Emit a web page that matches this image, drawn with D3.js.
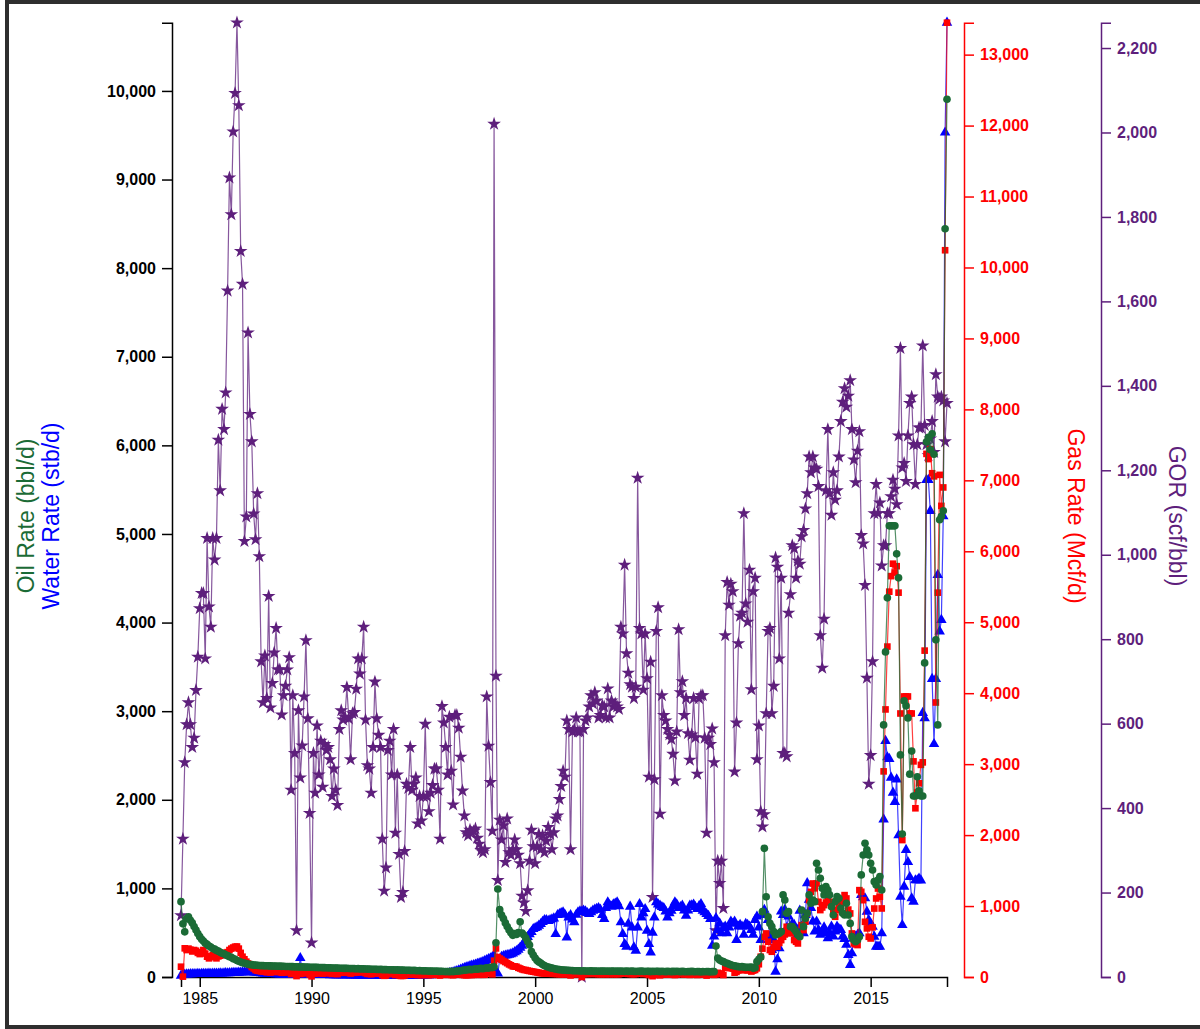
<!DOCTYPE html>
<html>
<head>
<meta charset="utf-8">
<script src="https://cdn.jsdelivr.net/npm/d3@7"></script>
<style>
  body { margin: 0; background: #fff; overflow: hidden; }
  #frame { position: absolute; left: 5px; top: 0; width: 1300px; height: 1021px; border: 4px solid #2e2e2e; }
  #chart { position: absolute; left: 0; top: 0; }
  text { font-family: "Liberation Sans", Arial, sans-serif; }
</style>
</head>
<body>
<div id="frame"></div>
<svg id="chart" width="1200" height="1029"></svg>
<script>
// monthly production, first month = March 1984
const firstMonth = new Date(1984, 2, 1)

const oil = [
  850, 600, 510, 660, 680, 640, 610, 570, 530, 490,
  455, 425, 405, 382, 368, 350, 338, 322, 314, 300, 292, 278,
  268, 262, 248, 241, 228, 222, 207, 200, 186, 178, 168, 161,
  156, 149, 146, 140, 139, 134, 134, 131, 130, 128, 129, 126,
  127, 125, 125, 123, 124, 122, 121, 122, 120, 121, 119, 119,
  118, 117, 117, 115, 116, 114, 113, 114, 112, 111, 112, 110,
  110, 109, 108, 108, 106, 107, 105, 105, 104, 103, 103, 102,
  101, 102, 100, 99, 99, 98, 97, 98, 96, 95, 96, 94,
  93, 94, 92, 91, 92, 90, 89, 90, 88, 87, 88, 86,
  85, 86, 84, 83, 84, 82, 81, 82, 80, 79, 80, 78,
  77, 78, 76, 75, 76, 74, 73, 74, 72, 71, 72, 70,
  69, 70, 68, 67, 68, 66, 65, 66, 64, 63, 64, 62,
  61, 62, 60, 63, 61, 64, 66, 68, 71, 74, 77, 79,
  83, 86, 82, 88, 91, 87, 94, 97, 93, 99, 104, 101,
  108, 106, 115, 387, 993, 760, 700, 660, 610, 570, 530, 500,
  470, 490, 480, 500, 624, 497, 474, 440, 400, 361, 286, 248,
  214, 185, 170, 158, 140, 130, 118, 113, 105, 100, 95, 90,
  86, 83, 81, 78, 77, 75, 74, 73, 72, 71, 70, 70,
  69, 68, 70, 67, 68, 66, 69, 67, 66, 68, 65, 67,
  66, 68, 65, 67, 64, 66, 68, 65, 67, 64, 66, 65,
  64, 66, 63, 65, 67, 64, 62, 65, 63, 66, 64, 62,
  65, 63, 61, 64, 62, 65, 63, 61, 64, 62, 60, 63,
  62, 60, 63, 61, 64, 62, 60, 63, 61, 59, 62, 60,
  63, 61, 59, 62, 60, 58, 61, 59, 62, 60, 58, 61,
  60, 350, 214, 192, 180, 173, 160, 155, 145, 136, 130, 125,
  120, 117, 115, 117, 112, 109, 110, 109, 113, 98, 105, 173,
  199, 226, 737, 1452, 906, 680, 605, 568, 512, 474, 485, 493,
  512, 926, 869, 719, 737, 568, 568, 540, 512, 474, 455, 756,
  568, 662, 719, 926, 832, 869, 850, 1283, 1208, 1114, 1001, 926,
  1020, 982, 926, 794, 700, 850, 907, 888, 775, 719, 700, 832,
  700, 605, 455, 417, 399, 417, 455, 1152, 1377, 1509, 1434, 1377,
  1283, 1208, 1076, 1039, 1095, 1133, 982, 2845, 3669, 4279, 5092, 5092,
  5092, 5092, 4776, 4505, 2506, 1614, 3116, 3060, 2924, 2289, 2550, 2043,
  2043, 2260, 2100, 2043, 2043, 3545, 6040, 6090, 5950, 6130, 5900, 3805,
  2845, 5160, 5200, 5261, 8445, 9906
]

const water = [
  15, 25, 28, 30, 31, 32, 32, 34, 33, 35,
  34, 36, 35, 37, 36, 38, 37, 39, 38, 40, 39, 41,
  40, 42, 43, 42, 44, 45, 46, 47, 48, 49, 51, 52,
  54, 56, 57, 55, 54, 52, 51, 48, 46, 43, 40, 38,
  36, 35, 34, 33, 33, 32, 31, 30, 30, 29, 29, 28,
  28, 27, 27, 29, 30, 60, 214, 70, 28, 27, 26, 26,
  25, 25, 24, 24, 23, 24, 23, 22, 23, 22, 21, 22,
  21, 21, 20, 21, 20, 19, 20, 19, 19, 18, 19, 18,
  18, 17, 18, 17, 17, 16, 17, 16, 16, 16, 15, 16,
  15, 16, 15, 15, 14, 15, 15, 14, 15, 14, 14, 15,
  14, 15, 14, 15, 15, 16, 15, 16, 17, 16, 17, 18,
  18, 19, 19, 20, 21, 22, 24, 25, 27, 28, 31, 33,
  36, 39, 44, 48, 53, 60, 66, 74, 83, 92, 101, 110,
  116, 123, 128, 135, 141, 149, 155, 163, 171, 182, 191, 203,
  212, 226, 241, 60, 40, 200, 229, 236, 242, 246, 251, 258,
  266, 281, 292, 309, 331, 352, 389, 421, 452, 484, 509, 541,
  553, 562, 579, 598, 622, 643, 641, 633, 642, 651, 662, 485,
  700, 711, 722, 730, 702, 447, 673, 698, 650, 617, 703, 730,
  741, 738, 749, 740, 722, 711, 730, 749, 760, 770, 779, 760,
  700, 654, 780, 843, 810, 794, 820, 830, 843, 800, 617, 485,
  372, 342, 600, 794, 560, 335, 297, 560, 824, 673, 720, 767,
  523, 372, 278, 500, 673, 843, 820, 805, 790, 779, 740, 673,
  720, 749, 800, 843, 820, 779, 790, 805, 750, 692, 750, 805,
  810, 817, 790, 767, 800, 824, 749, 730, 711, 690, 654, 353,
  457, 664, 532, 607, 494, 551, 570, 494, 560, 626, 600, 626,
  419, 570, 588, 570, 476, 600, 588, 570, 532, 476, 645, 683,
  560, 419, 701, 758, 700, 645, 457, 306, 419, 60, 200, 325,
  739, 700, 758, 551, 683, 551, 600, 588, 457, 532, 749, 570,
  494, 700, 1059, 871, 780, 626, 513, 626, 532, 476, 520, 560,
  494, 438, 500, 570, 457, 513, 570, 540, 532, 457, 430, 363,
  250, 137, 268, 438, 455, 476, 493, 926, 900, 888, 738, 643,
  600, 568, 455, 342, 342, 342, 493, 1779, 2665, 2480, 2461, 2250,
  2080, 1976, 2230, 1600, 907, 587, 1020, 1434, 1298, 1129, 888, 850,
  1092, 1092, 1111, 1090, 2980, 2920, 5610, 5610, 5260, 3364, 2630, 3364,
  4538, 3900, 4030, 5200, 9530, 10770
]

const gas = [
  145, 5, 404, 380, 400, 385, 360, 380, 370, 340,
  323, 350, 380, 330, 286, 263, 290, 310, 280, 263, 290, 300,
  310, 330, 342, 350, 380, 400, 415, 427, 430, 400, 340, 286,
  250, 216, 190, 169, 140, 120, 98, 90, 85, 80, 78, 75,
  66, 90, 63, 70, 75, 80, 70, 70, 60, 65, 66, 70,
  72, 42, 62, 49, 13, 58, 43, 50, 60, 72, 55, 35,
  9, 58, 47, 64, 52, 60, 48, 58, 56, 57, 54, 44,
  50, 45, 41, 59, 63, 60, 60, 67, 59, 49, 60, 59,
  64, 71, 67, 69, 76, 55, 45, 44, 39, 48, 62, 54,
  49, 47, 28, 17, 22, 46, 47, 40, 48, 28, 39, 23,
  15, 16, 23, 35, 34, 41, 33, 34, 35, 27, 31, 27,
  30, 41, 29, 27, 30, 31, 33, 33, 29, 21, 42, 38,
  34, 30, 38, 30, 25, 39, 39, 38, 35, 30, 27, 25,
  28, 30, 29, 31, 32, 32, 32, 32, 31, 33, 70, 57,
  50, 38, 230, 403, 281, 260, 243, 225, 211, 195, 178, 165,
  150, 148, 145, 130, 120, 108, 100, 98, 90, 85, 80, 75,
  70, 65, 60, 55, 52, 50, 50, 48, 47, 45, 45, 44,
  42, 40, 40, 40, 38, 44, 40, 22, 40, 40, 42, 40,
  40, 0, 40, 42, 43, 45, 45, 44, 45, 44, 40, 41,
  42, 42, 40, 44, 40, 43, 41, 42, 41, 40, 52, 50,
  60, 47, 44, 43, 42, 40, 42, 75, 51, 50, 42, 50,
  43, 29, 45, 12, 29, 50, 54, 24, 41, 38, 37, 36,
  35, 34, 32, 28, 35, 50, 40, 42, 37, 40, 35, 30,
  34, 40, 34, 29, 39, 40, 40, 34, 20, 35, 33, 35,
  30, 39, 59, 43, 50, 28, 130, 145, 128, 126, 118, 61,
  72, 92, 98, 101, 123, 96, 92, 105, 77, 90, 99, 122,
  180, 286, 400, 567, 614, 497, 380, 356, 420, 473, 427, 480,
  520, 567, 600, 708, 650, 614, 661, 520, 497, 473, 600, 731,
  661, 780, 896, 1084, 1200, 1318, 1250, 1318, 1060, 943, 980, 1013,
  1050, 1083, 1060, 1036, 943, 849, 943, 980, 1013, 1080, 1154, 1107,
  950, 896, 614, 473, 460, 450, 1224, 1201, 1083, 778, 685, 567,
  543, 700, 965, 1107, 1247, 1130, 966, 2898, 3771, 4657, 5431, 5650,
  5825, 5700, 5790, 5417, 3714, 1930, 3954, 3954, 3954, 3714, 3714, 3039,
  2378, 2600, 2730, 2990, 3025, 4600, 7373, 7300, 7440, 7100, 7056, 3869,
  5417, 7077, 6640, 6900, 10243, 13450
]

const gor = [
  146, 327, 508, 598, 650, 598, 544, 566, 679, 758,
  873, 909, 909, 754, 1039, 877, 829, 1039, 988, 1039, 1272, 1152,
  1345, 1297, 1384, 1625, 1893, 1806, 2002, 2093, 2260, 2064, 1719, 1641,
  1032, 1090, 1526, 1333, 1268, 1097, 1036, 1145, 996, 747, 650, 761,
  660, 902, 638, 696, 768, 826, 728, 728, 621, 667, 689, 728,
  757, 443, 667, 530, 110, 631, 472, 548, 664, 797, 612, 388,
  81, 530, 436, 595, 479, 559, 450, 551, 537, 544, 515, 428,
  493, 443, 407, 587, 631, 609, 616, 686, 612, 515, 624, 627,
  682, 754, 718, 754, 829, 609, 501, 493, 436, 544, 699, 612,
  573, 544, 327, 204, 259, 537, 559, 479, 587, 341, 479, 291,
  189, 201, 298, 457, 447, 544, 443, 457, 472, 363, 428, 370,
  428, 599, 428, 392, 436, 454, 493, 493, 443, 327, 641, 602,
  544, 479, 616, 488, 408, 620, 620, 590, 521, 441, 382, 342,
  335, 348, 342, 345, 351, 329, 315, 300, 295, 302, 664, 547,
  461, 346, 2020, 713, 229, 372, 325, 359, 272, 375, 295, 289,
  302, 325, 302, 289, 269, 192, 176, 156, 205, 275, 348, 309,
  269, 309, 338, 302, 335, 295, 322, 355, 338, 302, 342, 375,
  382, 421, 452, 488, 474, 607, 587, 302, 581, 587, 614, 581,
  581, 0, 587, 607, 614, 640, 667, 647, 674, 654, 614, 620,
  643, 640, 614, 683, 614, 654, 640, 647, 640, 634, 829, 813,
  976, 766, 720, 693, 687, 660, 687, 1182, 826, 813, 680, 813,
  707, 474, 746, 189, 468, 819, 875, 386, 667, 620, 607, 587,
  574, 563, 528, 465, 581, 823, 674, 700, 620, 660, 577, 514,
  574, 660, 567, 481, 660, 667, 667, 566, 341, 566, 551, 588,
  508, 110, 275, 222, 275, 163, 809, 935, 881, 931, 913, 486,
  602, 790, 855, 862, 1098, 884, 841, 964, 681, 913, 945, 515,
  595, 392, 356, 385, 624, 819, 826, 624, 689, 993, 971, 754,
  945, 530, 530, 522, 862, 906, 1022, 1015, 945, 986, 978, 1043,
  1058, 1109, 1145, 1232, 1195, 1232, 1206, 1203, 1162, 809, 732, 848,
  1152, 1297, 1145, 1094, 1195, 1130, 1152, 1232, 1316, 1362, 1394, 1350,
  1376, 1413, 1297, 1225, 1171, 1246, 1292, 1046, 1026, 928, 708, 457,
  525, 747, 1098, 1167, 1098, 1123, 974, 1022, 1022, 1098, 1098, 1138,
  1177, 1156, 1119, 1282, 1489, 1206, 1217, 1174, 1282, 1359, 1374, 1261,
  1167, 1261, 1301, 1301, 1495, 1307, 1261, 1235, 1275, 1316, 1243, 1427,
  1374, 1369, 1374, 1365, 1268, 1359
]

const oilColor = '#1b6b36'
const waterColor = '#0000ff'
const gasColor = '#ff0000'
const gorColor = '#5e1f7c'

const svg = d3.select('#chart')
const plotTop = 22.7, plotBottom = 977

const nMonths = d3.max([oil.length, water.length, gas.length, gor.length])
const months = d3.range(nMonths).map(i => d3.timeMonth.offset(firstMonth, i))

const x = d3.scaleTime().domain(d3.extent(months)).range([181, 947])
const yRate = d3.scaleLinear().domain([0, d3.max(oil.concat(water))]).range([plotBottom, plotTop])
const yGas = d3.scaleLinear().domain([0, d3.max(gas)]).range([plotBottom, plotTop])
const yGor = d3.scaleLinear().domain([0, d3.max(gor)]).range([plotBottom, plotTop])

function styleAxis(g, color, bold) {
    g.attr('color', color)
    g.selectAll('.domain, .tick line').attr('stroke-width', 1.5)
    g.selectAll('.tick text')
        .attr('font-size', 16)
        .attr('font-weight', bold ? 'bold' : 'normal')
        .attr('font-family', '"Liberation Sans", Arial, sans-serif')
}

// axes
svg.append('g')
    .attr('transform', `translate(0,${plotBottom})`)
    .call(d3.axisBottom(x).tickSize(10).tickPadding(6).tickFormat(d3.timeFormat('%Y')))
    .call(g => styleAxis(g, '#000', false))

svg.append('g')
    .attr('transform', 'translate(172,0)')
    .call(d3.axisLeft(yRate).tickSize(10).tickPadding(6).tickFormat(d3.format(',')))
    .call(g => styleAxis(g, '#000', true))

svg.append('g')
    .attr('transform', 'translate(964,0)')
    .call(d3.axisRight(yGas).tickSize(10).tickPadding(6).tickFormat(d3.format(',')))
    .call(g => styleAxis(g, gasColor, true))

svg.append('g')
    .attr('transform', 'translate(1101,0)')
    .call(d3.axisRight(yGor).tickSize(10).tickPadding(6).tickFormat(d3.format(',')))
    .call(g => styleAxis(g, gorColor, true))

// series: line + markers
function drawSeries(values, yScale, color, symbolType, size) {
    const pts = values.map((v, i) => [x(months[i]), yScale(v)])
    const g = svg.append('g')
    g.append('path')
        .attr('d', d3.line()(pts))
        .attr('fill', 'none')
        .attr('stroke', color)
        .attr('stroke-width', 1.2)
        .attr('stroke-opacity', 0.75)
    g.selectAll('.pt').data(pts).join('path')
        .attr('class', 'pt')
        .attr('transform', d => `translate(${d[0]},${d[1]})`)
        .attr('d', d3.symbol(symbolType, size))
        .attr('fill', color)
}

drawSeries(gor, yGor, gorColor, d3.symbolStar, 58)
drawSeries(water, yRate, waterColor, d3.symbolTriangle, 48)
drawSeries(gas, yGas, gasColor, d3.symbolSquare, 44)
drawSeries(oil, yRate, oilColor, d3.symbolCircle, 46)

// axis titles
const titleY = 516
function title(txt, tx, rot, color) {
    svg.append('text')
        .attr('transform', `translate(${tx},${titleY}) rotate(${rot})`)
        .attr('text-anchor', 'middle')
        .attr('font-size', 23)
        .attr('fill', color)
        .text(txt)
}
title('Oil Rate (bbl/d)', 34, -90, oilColor)
title('Water Rate (stb/d)', 59, -90, waterColor)
title('Gas Rate (Mcf/d)', 1068, 90, gasColor)
title('GOR (scf/bbl)', 1169, 90, gorColor)
</script>
</body>
</html>
